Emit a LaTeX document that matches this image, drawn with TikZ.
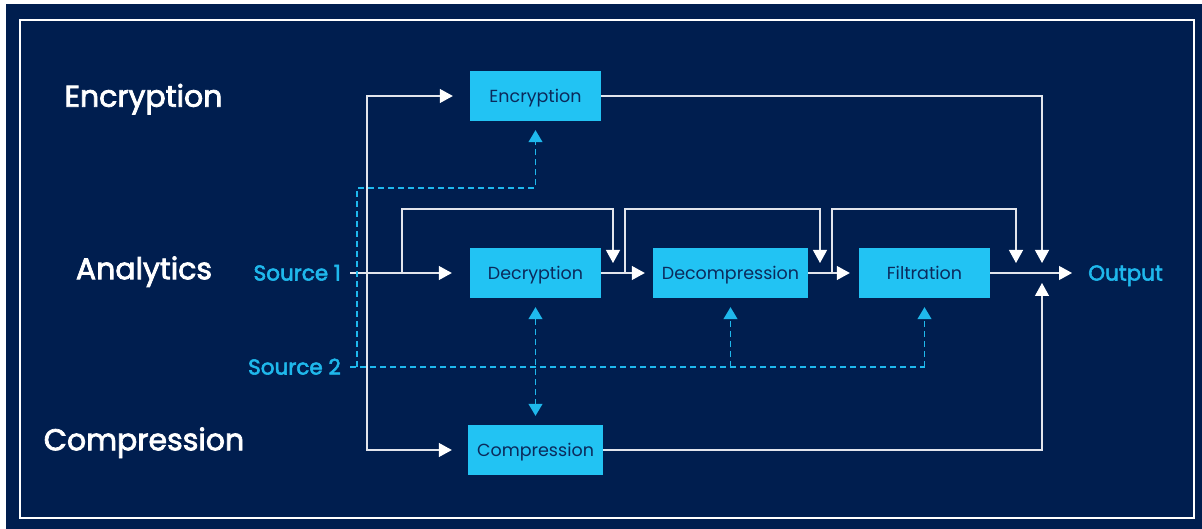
\documentclass[tikz,border=0pt]{standalone}
\usepackage{fontspec}
\setmainfont{Poppins}
\newfontfamily\medfont{Poppins}[FakeBold=2.6]
\usepackage{tikz}
\usetikzlibrary{arrows.meta}
\usetikzlibrary{calc}

\definecolor{navy}{HTML}{001E4F}
\definecolor{boxcyan}{HTML}{22C3F3}
\definecolor{boxtext}{HTML}{0B2A5B}
\definecolor{srccyan}{HTML}{1FB8EC}
\definecolor{wire}{HTML}{E2E5EC}

\begin{document}
\begin{tikzpicture}[x=1pt,y=-1pt,
    block/.style={rectangle,fill=boxcyan,text=boxtext,inner sep=0pt,
                  minimum height=50pt,text height=12.2pt,text depth=0pt,
                  font=\fontsize{17.5}{20}\selectfont},
    title/.style={text=white,inner sep=0pt,text height=20.5pt,text depth=0pt,
                  font=\fontsize{30}{34}\medfont},
    src/.style={text=srccyan,inner sep=0pt,text height=15pt,text depth=0pt,
                font=\fontsize{21.5}{25}\medfont},
    flow/.style={draw=wire,line width=1.2pt,-{Triangle[length=13pt,width=14pt,color=white]}},
    ctrl/.style={draw=srccyan,line width=1.2pt,dash pattern=on 6pt off 4pt,
                 -{Triangle[length=12pt,width=14pt,color=srccyan]}},
   ]
  \useasboundingbox (0,0) rectangle (1202,529);
  \fill[white] (0,0) rectangle (1202,529);
  \fill[navy] (6,4) rectangle (1202,529);
  \draw[white,line width=1.5pt] (20,20) rectangle (1194,518);

  \node[title] (tenc) at (143.5,96.5) {Encryption};
  \node[title] (tana) at (144,269)    {Analytics};
  \node[title] (tcmp) at (144,440)    {Compression};

  \node[block,minimum width=131pt] (enc) at (535.5,96)  {Encryption};
  \node[block,minimum width=131pt] (dec) at (535.5,273) {Decryption};
  \node[block,minimum width=155pt] (dcm) at (730.5,273) {Decompression};
  \node[block,minimum width=131pt] (fil) at (924.5,273) {Filtration};
  \node[block,minimum width=135pt] (cmp) at (535.5,450) {Compression};

  \node[src,anchor=east] (s1)  at (341,273)  {Source 1};
  \node[src,anchor=east] (s2)  at (341,367)  {Source 2};
  \node[src,anchor=west] (out) at (1088,273) {Output};

  \coordinate (s1o) at (350,273);
  \coordinate (tr)  at (367,273);
  \coordinate (b1)  at (402,273);
  \coordinate (m1)  at (613,273);
  \coordinate (b2)  at (625,273);
  \coordinate (m2)  at (820,273);
  \coordinate (b3)  at (832,273);
  \coordinate (m3)  at (1016,273);
  \coordinate (m4)  at (1042,273);
  \coordinate (s2o) at (350,367);
  \coordinate (d0)  at (357,367);
  \coordinate (d2)  at (730.5,367);
  \coordinate (d3)  at (924.5,367);

  \draw[flow,shorten >=18pt] (s1o) -- (dec);
  \draw[flow,shorten >=17pt] (tr) |- (enc.west);
  \draw[flow,shorten >=16pt] (tr) |- (cmp.west);
  \draw[flow,shorten >=8pt] (dec) -- (dcm);
  \draw[flow,shorten >=9pt] (dcm) -- (fil);
  \draw[flow,shorten >=16pt] (fil) -- (out.west);
  \draw[flow,shorten >=10pt] (b1) -- ++(0,-64) -| (m1);
  \draw[flow,shorten >=10pt] (b2) -- ++(0,-64) -| (m2);
  \draw[flow,shorten >=10pt] (b3) -- ++(0,-64) -| (m3);
  \draw[flow,shorten >=10pt] (enc) -| (m4);
  \draw[flow,shorten >=10pt] (cmp) -| (m4);

  \draw[ctrl,-] (s2o) -- (d3);
  \draw[ctrl,shorten >=9pt] (d0) -- ++(0,-179) -| (enc.south);
  \draw[ctrl,shorten >=9pt] (d2) -- (dcm.south);
  \draw[ctrl,shorten >=9pt] (d3) -- (fil.south);
  \draw[ctrl,{Triangle[length=12pt,width=14pt,color=srccyan]}-{Triangle[length=12pt,width=14pt,color=srccyan]},
        shorten <=9pt,shorten >=9pt] (dec.south) -- (cmp.north);
\end{tikzpicture}
\end{document}
